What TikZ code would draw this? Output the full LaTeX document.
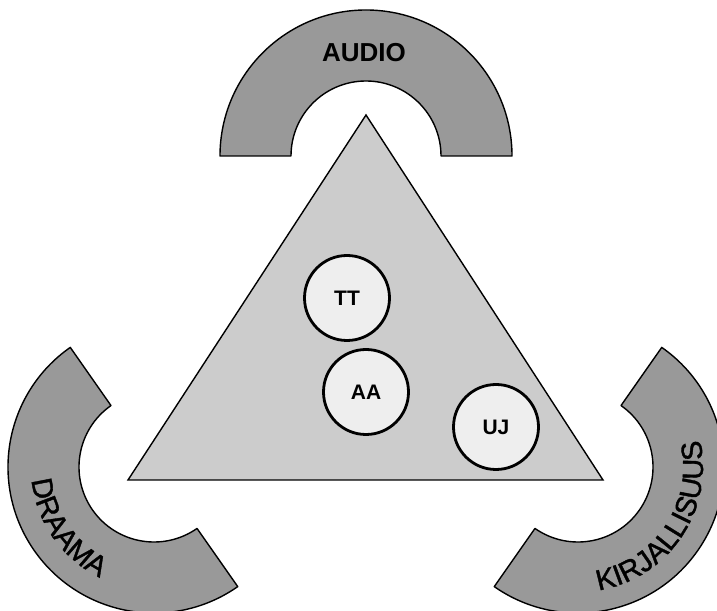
\documentclass[tikz,border=0pt]{standalone}
\usepackage{fontspec}
\setmainfont{Liberation Sans}
\newfontfamily\arcfam{Liberation Sans}[FakeBold=1.3]
\usetikzlibrary{calc,decorations.text}
\definecolor{ringgray}{HTML}{999999}
\definecolor{trigray}{HTML}{CCCCCC}
\definecolor{circgray}{HTML}{EEEEEE}
\newcommand\ringfont{\fontsize{26}{26}\selectfont\bfseries}
\newcommand\arcfont{\fontsize{29}{29}\arcfam}
\newcommand\circfont{\fontsize{21}{21}\selectfont\bfseries}
\tikzset{
  ringshape/.style={draw=black, line width=1.4pt, fill=ringgray, line join=round},
  tri/.style={draw=black, line width=1.4pt, fill=trigray, line join=miter},
  circ/.style={circle, draw=black, line width=2.8pt, fill=circgray, minimum size=85pt, inner sep=0pt, font=\circfont},
  lbl/.style={font=\ringfont, inner sep=0pt}
}
\newcommand\ring[2]{%
  \draw[ringshape] ($(#1)+(#2:146)$) arc[start angle=#2, end angle=#2+180, radius=146]
    -- ($(#1)+(#2+180:75)$) arc[start angle=#2+180, end angle=#2, radius=75] -- cycle;}
\begin{document}
\begin{tikzpicture}[x=1pt,y=1pt]
\useasboundingbox (0,0) rectangle (717,610);
\clip (0,0) rectangle (717,610);
% triangle
\coordinate (apex) at (366,495);
\coordinate (tl) at (128,130);
\coordinate (tr) at (603,130);
\draw[tri] (apex) -- (tl) -- (tr) -- cycle;
% ring centres
\coordinate (ctop) at (366,454);
\coordinate (cleft) at (154,143);
\coordinate (cright) at (578,143);
\ring{ctop}{0}
\ring{cleft}{125}
\ring{cright}{-125}
% labels
\node[lbl] (audio) at (364,557) {AUDIO};
\path[decorate, decoration={text along path, text align=center,
   text={|\arcfont|DRAAMA}}]
   ($(cleft)+(175:123)$) arc[start angle=175, end angle=255, radius=123];
\path[decorate, decoration={text along path, text align=center,
   text={|\arcfont|KIRJALLISUUS}}]
   ($(cright)+(-118:125)$) arc[start angle=-118, end angle=50, radius=125];
% circles
\node[circ] (tt) at (347,312) {TT};
\node[circ] (aa) at (366,218) {AA};
\node[circ] (uj) at (496,183) {UJ};
\end{tikzpicture}
\end{document}
